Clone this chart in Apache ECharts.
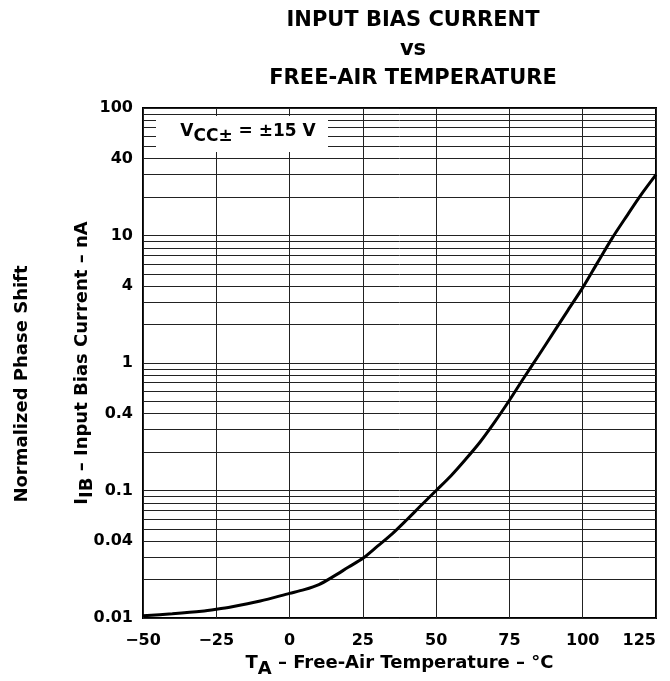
<!DOCTYPE html>
<html>
<head>
<meta charset="utf-8">
<script src="https://cdn.jsdelivr.net/npm/echarts@6/dist/echarts.min.js"></script>
<style>
  html, body { margin: 0; padding: 0; background: #fff; }
  #chart { width: 670px; height: 681px; }
</style>
</head>
<body>
<div id="chart"></div>
<script>
// T_A (°C) vs I_IB (nA)
const temps = [-50, -40, -30, -25, -20, -10, 0, 5, 10, 15, 20, 25, 30, 35, 40, 45,
  50, 55, 60, 65, 70, 75, 80, 85, 90, 95, 100, 105, 110, 115, 120, 125]
const biasCurrent = [0.0104, 0.0108, 0.0113, 0.0117, 0.0122, 0.0136, 0.0156, 0.0167,
  0.0183, 0.0212, 0.025, 0.0294, 0.0366, 0.0457, 0.059, 0.077,
  0.1, 0.13, 0.175, 0.24, 0.345, 0.51, 0.77, 1.15, 1.73, 2.6,
  3.9, 6.1, 9.5, 14.2, 21, 30]

// log grid: decades come from the axis, 2..9 lines from markLines
const decades = [0.01, 0.1, 1, 10]
const minorSteps = [2, 3, 4, 5, 6, 7, 8, 9]
const labeledStep = 4 // 0.04, 0.4, 4, 40 carry a label

const FONT = '"DejaVu Sans", "Liberation Sans", Arial, sans-serif'
const fmt = v => String(Number(v.toPrecision(6)))

const minorLines = []
decades.forEach(d => {
  minorSteps.forEach(s => {
    minorLines.push({
      yAxis: d * s,
      label: { show: s === labeledStep }
    })
  })
})

// main text + lowered subscript (padding on top pushes it down)
const subRich = (size, drop) => ({
  m: { fontFamily: FONT, fontSize: size, fontWeight: 'bold', color: '#000', verticalAlign: 'middle' },
  s: { fontFamily: FONT, fontSize: size, fontWeight: 'bold', color: '#000', verticalAlign: 'middle', padding: [drop * 2, 0, 0, 0] }
})

const chart = echarts.init(document.getElementById('chart'))

chart.setOption({
  backgroundColor: '#fff',
  animation: false,
  textStyle: { fontFamily: FONT },
  title: {
    text: 'INPUT BIAS CURRENT\nvs\nFREE-AIR TEMPERATURE',
    left: 408,
    top: 1,
    textAlign: 'center',
    textStyle: {
      fontFamily: FONT,
      fontSize: 21,
      fontWeight: 'bold',
      color: '#000',
      lineHeight: 29
    }
  },
  grid: {
    left: 143,
    right: 14,
    top: 108,
    bottom: 63,
    outerBoundsMode: 'none',
    show: true,
    borderColor: '#000',
    borderWidth: 2,
    backgroundColor: 'transparent'
  },
  xAxis: {
    type: 'value',
    min: -50,
    max: 125,
    interval: 25,
    axisLine: { show: false },
    axisTick: { show: false },
    splitLine: { show: true, lineStyle: { color: '#222', width: 1 } },
    axisLabel: {
      margin: 15,
      color: '#000',
      fontSize: 16,
      fontWeight: 'bold',
      fontFamily: FONT,
      alignMaxLabel: 'right',
      formatter: v => String(v).replace('-', '\u2212')
    },
    name: '{m|T}{s|A}{m| \u2013 Free-Air Temperature \u2013 \u00b0C}',
    nameLocation: 'middle',
    nameGap: 31,
    nameMoveOverlap: false,
    nameTextStyle: { rich: subRich(18, 5.5) }
  },
  yAxis: {
    type: 'log',
    logBase: 10,
    min: 0.01,
    max: 100,
    axisLine: { show: false },
    axisTick: { show: false },
    splitLine: { show: true, lineStyle: { color: '#222', width: 1 } },
    axisLabel: {
      margin: 10,
      color: '#000',
      fontSize: 16,
      fontWeight: 'bold',
      fontFamily: FONT,
      formatter: fmt
    },
    name: '{m|I}{s|IB}{m| \u2013 Input Bias Current \u2013 nA}',
    nameLocation: 'middle',
    nameRotate: 90,
    nameGap: 47,
    nameMoveOverlap: false,
    nameTextStyle: { rich: subRich(18, 5) }
  },
  series: [{
    name: 'I_IB',
    type: 'line',
    data: temps.map((t, i) => [t, biasCurrent[i]]),
    showSymbol: false,
    smooth: 0.3,
    lineStyle: { color: '#000', width: 3 },
    z: 5,
    markLine: {
      silent: true,
      symbol: ['none', 'none'],
      animation: false,
      lineStyle: { color: '#222', width: 1, type: 'solid' },
      label: {
        position: 'start',
        distance: 10,
        color: '#000',
        fontSize: 16,
        fontWeight: 'bold',
        fontFamily: FONT,
        formatter: p => fmt(p.value)
      },
      emphasis: { disabled: true },
      data: minorLines
    }
  }],
  graphic: [{
    type: 'rect',
    z: 100,
    shape: { x: 156, y: 116, width: 172, height: 36 },
    style: { fill: '#fff' }
  }, {
    type: 'text',
    z: 101,
    x: 248,
    y: 132,
    style: {
      text: '{m|V}{s|CC\u00b1}{m| = \u00b115 V}',
      align: 'center',
      verticalAlign: 'middle',
      rich: {
        m: { fontFamily: FONT, fontSize: 17, fontWeight: 'bold', fill: '#000', verticalAlign: 'middle' },
        s: { fontFamily: FONT, fontSize: 17, fontWeight: 'bold', fill: '#000', verticalAlign: 'middle', padding: [9, 0, 0, 0] }
      }
    }
  }, {
    type: 'text',
    z: 101,
    x: 22,
    y: 384,
    rotation: Math.PI / 2,
    style: {
      text: 'Normalized Phase Shift',
      align: 'center',
      verticalAlign: 'middle',
      font: 'bold 18px ' + FONT,
      fill: '#000'
    }
  }]
})
</script>
</body>
</html>
